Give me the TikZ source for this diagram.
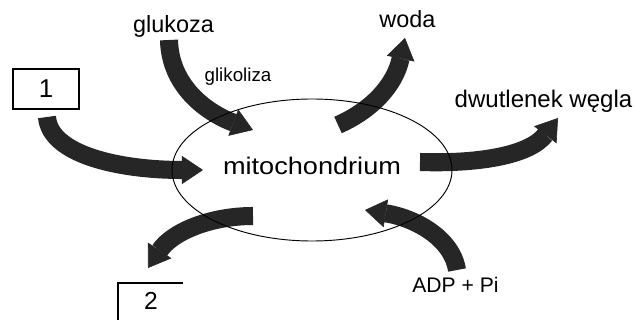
\documentclass[tikz,border=0pt]{standalone}
\usepackage{fontspec}
\usepackage{graphicx}
\setmainfont{Liberation Sans}
\usetikzlibrary{arrows.meta,shapes.geometric}
\definecolor{arrowgray}{RGB}{38,38,38}
\begin{document}
\begin{tikzpicture}[x=0.03cm,y=-0.03cm,
  flow/.style={line width=15.4pt, draw=arrowgray,
    -{Triangle[width=24pt,length=18pt,line width=0.5pt]}},
  lbl/.style={anchor=base, inner sep=0pt},
  numbox/.style={draw, line width=0.9pt, minimum width=1.98cm,
    minimum height=1.2cm, inner sep=0pt}]
\useasboundingbox (0,0) rectangle (636,320);

% labels
\node[lbl, font=\fontsize{20}{24}\selectfont] (gluc) at (173.5,33) {glukoza};
\node[lbl, font=\fontsize{16}{19}\selectfont] (glik) at (238,82) {glikoliza};
\node[lbl, font=\fontsize{20}{24}\selectfont] (woda) at (407.5,28) {woda};
\node[lbl, font=\fontsize{20.5}{24}\selectfont] (co2) at (543.5,108) {dwutlenek węgla};
\node[lbl, font=\fontsize{20.5}{24}\selectfont] (mitotext) at (312,175) {\scalebox{1.13}[1]{mitochondrium}};
\node[lbl, font=\fontsize{18}{22}\selectfont] (adp) at (455.5,293) {ADP + Pi};

% numbered boxes
\node[numbox, font=\fontsize{22}{26}\selectfont] (box1) at (46,89) {1};
\node[lbl, font=\fontsize{21}{25}\selectfont] (two) at (151,310) {2};
\coordinate (b2l) at (118,320);
\coordinate (b2r) at (183,283);
\draw[line width=0.9pt] (b2l) |- (b2r);

% arrow end points
\coordinate (a1s) at (47,117);   \coordinate (a1e) at (203,170);
\coordinate (a2s) at (169,40);   \coordinate (a2e) at (253,130);
\coordinate (a3s) at (338,125);  \coordinate (a3e) at (405,38);
\coordinate (a4s) at (420,162);  \coordinate (a4e) at (558,118);
\coordinate (a5s) at (253,216);  \coordinate (a5e) at (148,268);
\coordinate (a6s) at (457,270);  \coordinate (a6e) at (365,210);

% thick curved arrows
\draw[flow] (a1s) .. controls (50,155) and (120,170) .. (a1e);
\draw[flow] (a2s) .. controls (170,85) and (205,112) .. (a2e);
\draw[flow] (a3s) .. controls (372,110) and (395,85) .. (a3e);
\draw[flow] (a4s) .. controls (480,164) and (530,155) .. (a4e);
\draw[flow] (a5s) .. controls (210,216) and (172,232) .. (a5e);
\draw[flow] (a6s) .. controls (452,238) and (415,218) .. (a6e);

% mitochondrium outline
\node[draw, ellipse, line width=0.8pt, minimum width=8.4cm,
  minimum height=4.26cm, inner sep=0pt] (mito) at (312,170) {};
\end{tikzpicture}
\end{document}
